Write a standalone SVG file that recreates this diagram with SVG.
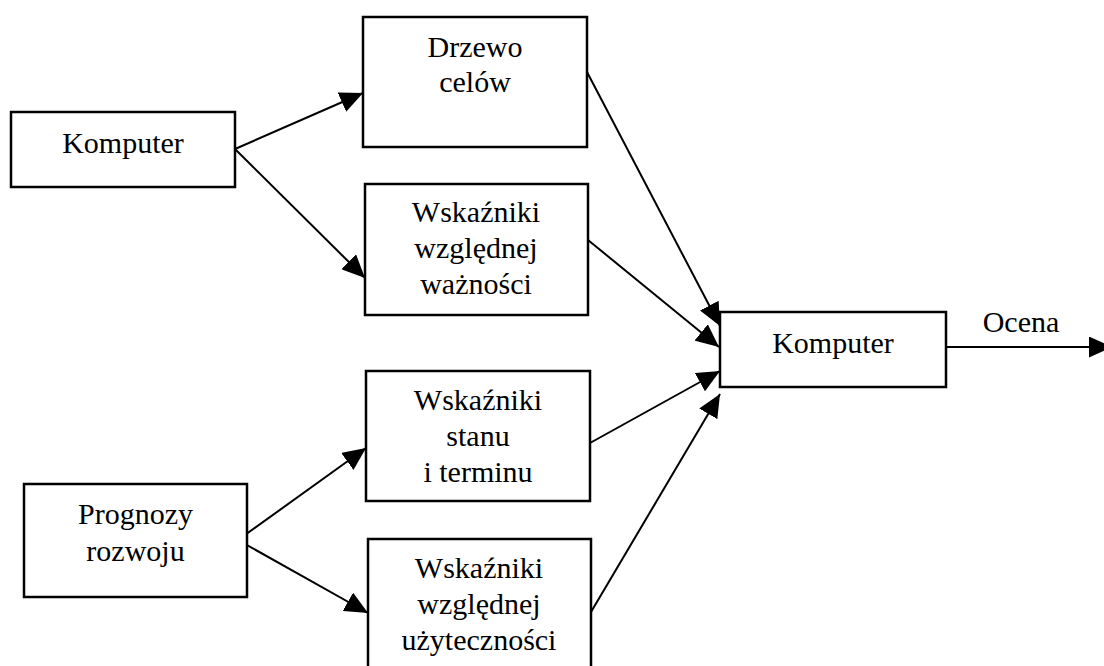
<svg xmlns="http://www.w3.org/2000/svg" width="1104" height="666" viewBox="0 0 1104 666">
  <style>
    .box { fill: #ffffff; stroke: #000000; stroke-width: 2.5; }
    .lbl { font-family: "Liberation Serif", "Times New Roman", serif; font-size: 30px; fill: #000000; text-anchor: middle; }
    .edge { fill: none; stroke: #000000; stroke-width: 2; marker-end: url(#arrow); }
  </style>
  <defs>
    <marker id="arrow" viewBox="0 0 23 21" refX="23" refY="10.5" markerWidth="23" markerHeight="21" markerUnits="userSpaceOnUse" orient="auto">
      <path d="M0,0 L23,10.5 L0,21 z" fill="#000000"/>
    </marker>
  </defs>
  <rect width="1104" height="666" fill="#ffffff"/>

  <g id="connectors">
    <line class="edge" x1="235" y1="149" x2="363" y2="93"/>
    <line class="edge" x1="235" y1="149" x2="365" y2="278"/>
    <line class="edge" x1="238" y1="540" x2="366" y2="448"/>
    <line class="edge" x1="238" y1="540" x2="368" y2="613"/>
    <line class="edge" x1="587" y1="72" x2="720" y2="326"/>
    <line class="edge" x1="588" y1="240" x2="719" y2="347"/>
    <line class="edge" x1="590" y1="443" x2="720" y2="371"/>
    <line class="edge" x1="591" y1="612" x2="720" y2="394"/>
    <line class="edge" x1="946" y1="347" x2="1112" y2="347"/>
    <text class="lbl" x="1021" y="332">Ocena</text>
  </g>

  <g id="komputer-in">
    <rect class="box" x="11" y="112" width="224" height="75"/>
    <text class="lbl" x="123" y="153">Komputer</text>
  </g>

  <g id="drzewo-celow">
    <rect class="box" x="363" y="17" width="224" height="130"/>
    <text class="lbl" x="475" y="57">Drzewo</text>
    <text class="lbl" x="475" y="92">celów</text>
  </g>

  <g id="wskazniki-waznosci">
    <rect class="box" x="365" y="184" width="223" height="131"/>
    <text class="lbl" x="476" y="222">Wskaźniki</text>
    <text class="lbl" x="476" y="258">względnej</text>
    <text class="lbl" x="476" y="294">ważności</text>
  </g>

  <g id="komputer-out">
    <rect class="box" x="720" y="312" width="226" height="75"/>
    <text class="lbl" x="833" y="353">Komputer</text>
  </g>

  <g id="wskazniki-stanu">
    <rect class="box" x="366" y="371" width="224" height="130"/>
    <text class="lbl" x="478" y="410">Wskaźniki</text>
    <text class="lbl" x="478" y="446">stanu</text>
    <text class="lbl" x="478" y="482">i terminu</text>
  </g>

  <g id="prognozy-rozwoju">
    <rect class="box" x="24" y="484" width="223" height="113"/>
    <text class="lbl" x="135.5" y="524">Prognozy</text>
    <text class="lbl" x="135.5" y="561">rozwoju</text>
  </g>

  <g id="wskazniki-uzytecznosci">
    <rect class="box" x="368" y="539" width="223" height="140"/>
    <text class="lbl" x="479" y="578">Wskaźniki</text>
    <text class="lbl" x="479" y="614">względnej</text>
    <text class="lbl" x="479" y="650">użyteczności</text>
  </g>
</svg>
